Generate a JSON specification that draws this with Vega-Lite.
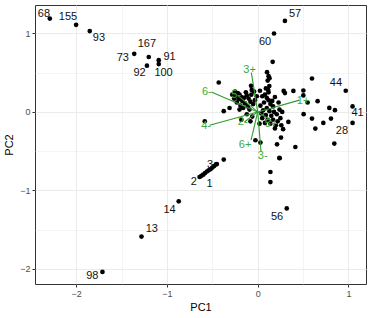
{
  "$schema": "https://vega.github.io/schema/vega-lite/v6.json",
  "width": 331,
  "height": 279,
  "autosize": {"type": "none"},
  "padding": {"left": 35, "top": 5, "right": 8, "bottom": 34},
  "background": "white",
  "config": {
    "font": "Liberation Sans",
    "view": {"stroke": "#333333", "strokeWidth": 1},
    "axis": {
      "domain": false,
      "gridColor": "#ebebeb",
      "tickColor": "#333333",
      "tickSize": 3,
      "labelColor": "#4d4d4d",
      "labelFontSize": 9,
      "labelPadding": 2,
      "titleFontSize": 11,
      "titleFontWeight": "normal",
      "titleColor": "#000000"
    }
  },
  "datasets": {
    "pts": [
      {"pc1": -2.29, "pc2": 1.19}, {"pc1": -2.0, "pc2": 1.11}, {"pc1": -1.85, "pc2": 1.03},
      {"pc1": -1.36, "pc2": 0.74}, {"pc1": -1.2, "pc2": 0.7}, {"pc1": -1.22, "pc2": 0.59},
      {"pc1": -1.09, "pc2": 0.66}, {"pc1": -1.09, "pc2": 0.61}, {"pc1": 0.3, "pc2": 1.16},
      {"pc1": 0.18, "pc2": 1.0}, {"pc1": 0.97, "pc2": 0.27}, {"pc1": 1.045, "pc2": 0.07},
      {"pc1": 1.045, "pc2": -0.14}, {"pc1": 0.32, "pc2": -1.23}, {"pc1": -0.87, "pc2": -1.14},
      {"pc1": -1.28, "pc2": -1.59}, {"pc1": -1.71, "pc2": -2.04},
      {"pc1": -0.64, "pc2": -0.83}, {"pc1": -0.62, "pc2": -0.815}, {"pc1": -0.6, "pc2": -0.8},
      {"pc1": -0.58, "pc2": -0.78}, {"pc1": -0.56, "pc2": -0.76}, {"pc1": -0.54, "pc2": -0.745},
      {"pc1": -0.52, "pc2": -0.73}, {"pc1": -0.5, "pc2": -0.71}, {"pc1": -0.48, "pc2": -0.69},
      {"pc1": -0.46, "pc2": -0.67}, {"pc1": -0.45, "pc2": -0.665}, {"pc1": -0.374, "pc2": -0.608},
      {"pc1": -0.429, "pc2": 0.375}, {"pc1": 0.103, "pc2": 0.507}, {"pc1": 0.12, "pc2": 0.456},
      {"pc1": 0.13, "pc2": 0.43}, {"pc1": 0.11, "pc2": 0.4}, {"pc1": 0.165, "pc2": 0.639},
      {"pc1": -0.073, "pc2": 0.332}, {"pc1": -0.065, "pc2": 0.28}, {"pc1": 0.025, "pc2": 0.27},
      {"pc1": 0.128, "pc2": 0.33}, {"pc1": 0.115, "pc2": 0.28}, {"pc1": 0.286, "pc2": 0.268},
      {"pc1": 0.3, "pc2": 0.24}, {"pc1": 0.393, "pc2": 0.268}, {"pc1": 0.503, "pc2": 0.273},
      {"pc1": 0.503, "pc2": 0.21}, {"pc1": 0.598, "pc2": 0.426}, {"pc1": 0.66, "pc2": 0.137},
      {"pc1": 0.55, "pc2": 0.12}, {"pc1": 0.789, "pc2": 0.051}, {"pc1": 0.851, "pc2": 0.022},
      {"pc1": 0.807, "pc2": -0.085}, {"pc1": 0.723, "pc2": -0.14}, {"pc1": 0.598, "pc2": -0.085},
      {"pc1": 0.635, "pc2": -0.213}, {"pc1": 0.506, "pc2": -0.029}, {"pc1": 0.844, "pc2": -0.404},
      {"pc1": 0.415, "pc2": -0.447}, {"pc1": 0.338, "pc2": -0.128}, {"pc1": 0.257, "pc2": -0.327},
      {"pc1": 0.213, "pc2": -0.413}, {"pc1": 0.242, "pc2": -0.591}, {"pc1": -0.025, "pc2": -0.361},
      {"pc1": 0.03, "pc2": -0.391}, {"pc1": -0.374, "pc2": 0.009}, {"pc1": -0.583, "pc2": -0.119},
      {"pc1": 0.239, "pc2": -0.587}, {"pc1": 0.14, "pc2": -0.766}, {"pc1": 0.14, "pc2": -0.894},
      {"pc1": -0.22, "pc2": 0.24}, {"pc1": -0.2, "pc2": 0.22}, {"pc1": -0.24, "pc2": 0.2},
      {"pc1": -0.18, "pc2": 0.19}, {"pc1": -0.26, "pc2": 0.17}, {"pc1": -0.21, "pc2": 0.16},
      {"pc1": -0.15, "pc2": 0.18}, {"pc1": -0.12, "pc2": 0.21}, {"pc1": -0.1, "pc2": 0.17},
      {"pc1": -0.17, "pc2": 0.14}, {"pc1": -0.23, "pc2": 0.12}, {"pc1": -0.14, "pc2": 0.11},
      {"pc1": -0.08, "pc2": 0.13}, {"pc1": -0.05, "pc2": 0.1}, {"pc1": -0.19, "pc2": 0.08},
      {"pc1": -0.11, "pc2": 0.07}, {"pc1": -0.03, "pc2": 0.15}, {"pc1": -0.28, "pc2": 0.22},
      {"pc1": -0.25, "pc2": 0.26}, {"pc1": -0.13, "pc2": 0.25}, {"pc1": -0.07, "pc2": 0.22},
      {"pc1": -0.16, "pc2": 0.05}, {"pc1": -0.09, "pc2": 0.03}, {"pc1": -0.2, "pc2": 0.03},
      {"pc1": -0.12, "pc2": -0.03}, {"pc1": -0.06, "pc2": -0.06}, {"pc1": -0.31, "pc2": 0.05},
      {"pc1": -0.01, "pc2": 0.2}, {"pc1": -0.04, "pc2": 0.26}, {"pc1": -0.18, "pc2": -0.1},
      {"pc1": -0.08, "pc2": -0.12},
      {"pc1": 0.05, "pc2": 0.2}, {"pc1": 0.08, "pc2": 0.22}, {"pc1": 0.1, "pc2": 0.18},
      {"pc1": 0.12, "pc2": 0.15}, {"pc1": 0.07, "pc2": 0.12}, {"pc1": 0.14, "pc2": 0.1},
      {"pc1": 0.17, "pc2": 0.07}, {"pc1": 0.1, "pc2": 0.05}, {"pc1": 0.06, "pc2": 0.02},
      {"pc1": 0.13, "pc2": 0.01}, {"pc1": 0.18, "pc2": 0.0}, {"pc1": 0.21, "pc2": -0.03},
      {"pc1": 0.15, "pc2": -0.05}, {"pc1": 0.09, "pc2": -0.04}, {"pc1": 0.05, "pc2": -0.08},
      {"pc1": 0.11, "pc2": -0.1}, {"pc1": 0.17, "pc2": -0.1}, {"pc1": 0.22, "pc2": -0.12},
      {"pc1": 0.25, "pc2": -0.08}, {"pc1": 0.2, "pc2": -0.17}, {"pc1": 0.14, "pc2": -0.15},
      {"pc1": 0.08, "pc2": -0.14}, {"pc1": 0.26, "pc2": -0.17}, {"pc1": 0.19, "pc2": -0.21},
      {"pc1": 0.03, "pc2": 0.08}, {"pc1": 0.16, "pc2": 0.14}, {"pc1": 0.24, "pc2": 0.03},
      {"pc1": 0.04, "pc2": -0.02}, {"pc1": 0.12, "pc2": 0.25}, {"pc1": 0.09, "pc2": 0.3},
      {"pc1": 0.19, "pc2": 0.19}, {"pc1": 0.23, "pc2": 0.12}, {"pc1": 0.27, "pc2": 0.0},
      {"pc1": 0.02, "pc2": -0.15}, {"pc1": 0.28, "pc2": -0.22}
    ],
    "labels": [
      {"label": "68", "lx": -2.354, "ly": 1.248},
      {"label": "155", "lx": -2.09, "ly": 1.206},
      {"label": "93", "lx": -1.749, "ly": 0.937},
      {"label": "73", "lx": -1.485, "ly": 0.682},
      {"label": "167", "lx": -1.221, "ly": 0.865},
      {"label": "92", "lx": -1.301, "ly": 0.49},
      {"label": "91", "lx": -0.971, "ly": 0.695},
      {"label": "100", "lx": -1.037, "ly": 0.49},
      {"label": "57", "lx": 0.411, "ly": 1.248},
      {"label": "60", "lx": 0.081, "ly": 0.894},
      {"label": "44", "lx": 0.862, "ly": 0.363},
      {"label": "41", "lx": 1.1, "ly": -0.02},
      {"label": "28", "lx": 0.928, "ly": -0.246},
      {"label": "56", "lx": 0.213, "ly": -1.341},
      {"label": "14", "lx": -0.971, "ly": -1.255},
      {"label": "13", "lx": -1.166, "ly": -1.494},
      {"label": "98", "lx": -1.822, "ly": -2.098},
      {"label": "2", "lx": -0.705, "ly": -0.894},
      {"label": "1", "lx": -0.529, "ly": -0.914},
      {"label": "3", "lx": -0.524, "ly": -0.681}
    ],
    "arrows": [
      {"name": "3+", "ox": 0, "oy": 0, "ax": -0.07, "ay": 0.5, "tx": -0.09, "ty": 0.535},
      {"name": "6-", "ox": 0, "oy": 0, "ax": -0.51, "ay": 0.255, "tx": -0.56, "ty": 0.255},
      {"name": "5-", "ox": 0, "oy": 0, "ax": -0.22, "ay": 0.21, "tx": -0.238, "ty": 0.213},
      {"name": "1+", "ox": 0, "oy": 0, "ax": 0.46, "ay": 0.15, "tx": 0.5, "ty": 0.14},
      {"name": "4-", "ox": 0, "oy": 0, "ax": -0.53, "ay": -0.17, "tx": -0.568, "ty": -0.183},
      {"name": "2-", "ox": 0, "oy": 0, "ax": -0.146, "ay": -0.128, "tx": -0.165, "ty": -0.128},
      {"name": "6+", "ox": 0, "oy": 0, "ax": -0.073, "ay": -0.361, "tx": -0.139, "ty": -0.416},
      {"name": "3-", "ox": 0, "oy": 0, "ax": 0.037, "ay": -0.511, "tx": 0.055, "ty": -0.562},
      {"name": "5+", "ox": 0, "oy": 0, "ax": 0.15, "ay": -0.11, "tx": 0.147, "ty": -0.148}
    ]
  },
  "layer": [
    {
      "data": {"name": "pts"},
      "mark": {"type": "point", "filled": true, "color": "#000000", "size": 22, "opacity": 1},
      "encoding": {
        "x": {"field": "pc1", "type": "quantitative", "title": "PC1",
              "scale": {"domain": [-2.453, 1.193], "nice": false, "zero": false},
              "axis": {"values": [-2, -1.5, -1, -0.5, 0, 0.5, 1], "titlePadding": 3,
                       "labelExpr": "datum.value % 1 === 0 ? format(datum.value, 'd') : ''",
                       "tickOpacity": {"condition": {"test": "datum.value % 1 === 0", "value": 1}, "value": 0},
                       "gridWidth": {"condition": {"test": "datum.value % 1 === 0", "value": 1.1}, "value": 0.55}}},
        "y": {"field": "pc2", "type": "quantitative", "title": "PC2",
              "scale": {"domain": [-2.194, 1.363], "nice": false, "zero": false},
              "axis": {"values": [-2, -1.5, -1, -0.5, 0, 0.5, 1], "titlePadding": 5,
                       "labelExpr": "datum.value % 1 === 0 ? format(datum.value, 'd') : ''",
                       "tickOpacity": {"condition": {"test": "datum.value % 1 === 0", "value": 1}, "value": 0},
                       "gridWidth": {"condition": {"test": "datum.value % 1 === 0", "value": 1.1}, "value": 0.55}}}
      }
    },
    {
      "data": {"name": "arrows"},
      "mark": {"type": "rule", "color": "#2e9a2e", "strokeWidth": 1.1},
      "encoding": {
        "x": {"field": "ox", "type": "quantitative"},
        "y": {"field": "oy", "type": "quantitative"},
        "x2": {"field": "ax"},
        "y2": {"field": "ay"}
      }
    },
    {
      "data": {"name": "arrows"},
      "mark": {"type": "text", "color": "#3cab3c", "fontSize": 11, "font": "Liberation Sans"},
      "encoding": {
        "x": {"field": "tx", "type": "quantitative"},
        "y": {"field": "ty", "type": "quantitative"},
        "text": {"field": "name"}
      }
    },
    {
      "data": {"name": "labels"},
      "mark": {"type": "text", "color": "#111111", "fontSize": 11, "font": "Liberation Sans"},
      "encoding": {
        "x": {"field": "lx", "type": "quantitative"},
        "y": {"field": "ly", "type": "quantitative"},
        "text": {"field": "label"}
      }
    }
  ]
}
